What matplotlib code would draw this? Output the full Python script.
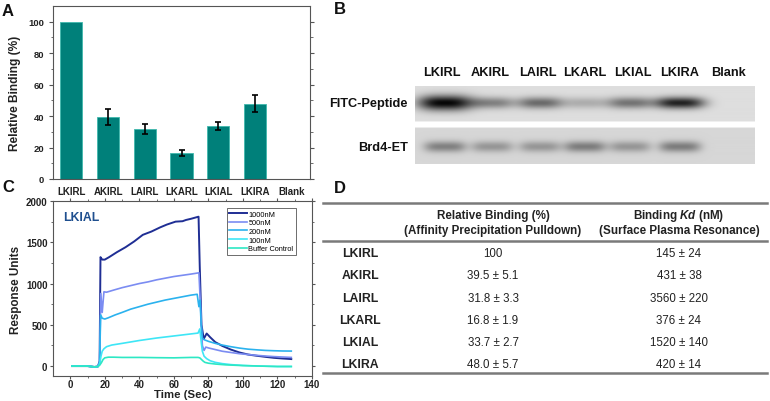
import numpy as np
import matplotlib
matplotlib.use("Agg")
import matplotlib.pyplot as plt
from matplotlib.lines import Line2D

plt.rcParams['font.family'] = ['Liberation Sans', 'DejaVu Sans']
plt.rcParams['mathtext.fontset'] = 'custom'
plt.rcParams['mathtext.it'] = 'Liberation Sans:italic:bold'
plt.rcParams['mathtext.rm'] = 'Liberation Sans:bold'

# ---------------- data ----------------
peptides = ["LKIRL", "AKIRL", "LAIRL", "LKARL", "LKIAL", "LKIRA", "Blank"]
rel_binding = [100, 39.5, 31.8, 16.8, 33.7, 48.0, 0]
rel_err = [0, 5.1, 3.3, 1.9, 2.7, 5.7, 0]

# blot band darkness (0 = none, 1 = black)
fitc_band = [0.97, 0.42, 0.52, 0.22, 0.48, 0.85, 0.0]
brd4_band = [0.40, 0.30, 0.30, 0.42, 0.30, 0.42, 0.0]

# SPR sensorgrams (LKIAL)
t_1000 = [1, 10, 14, 16, 17, 17.5, 18.5, 20, 22.5, 27, 32, 37, 42, 47, 52, 56, 61, 65, 67, 70, 74.3, 75, 76, 77.3, 79, 81, 84, 88, 93, 98, 103, 108, 113, 118, 123, 128]
v_1000 = [0, 0, -10, -5, 60, 1320, 1290, 1290, 1320, 1380, 1440, 1510, 1590, 1630, 1680, 1715, 1750, 1755, 1770, 1785, 1810, 1200, 500, 330, 395, 350, 290, 245, 200, 165, 140, 125, 112, 100, 92, 85]
t_500 = [1, 10, 14, 16, 17, 17.7, 18.5, 19.5, 21, 25, 30, 35, 40, 45, 50, 55, 60, 65, 70, 74.5, 75.5, 76.5, 77.5, 78.5, 80, 84, 88, 93, 98, 103, 108, 113, 118, 123, 128]
v_500 = [0, 0, -10, -5, 50, 880, 650, 900, 895, 920, 950, 975, 1000, 1020, 1045, 1065, 1085, 1100, 1115, 1130, 700, 250, 190, 230, 220, 200, 180, 165, 150, 140, 130, 122, 115, 110, 105]
t_200 = [1, 10, 14, 16, 17, 17.6, 18.5, 20, 22, 26, 30, 35, 40, 45, 50, 55, 60, 65, 70, 73.5, 74.5, 75.2, 75.8, 76.5, 77.5, 80, 84, 88, 93, 98, 103, 108, 113, 118, 123, 128]
v_200 = [0, 0, -10, -5, 50, 620, 580, 570, 585, 620, 650, 690, 720, 750, 775, 800, 820, 840, 860, 870, 720, 800, 500, 340, 320, 300, 275, 255, 235, 218, 205, 197, 190, 186, 183, 182]
t_100 = [1, 10, 14, 16, 17, 17.8, 18.5, 19.5, 21, 24, 30, 40, 50, 60, 70, 74, 75, 75.8, 76.5, 77.5, 79, 81, 84, 88, 93, 100, 110, 120, 128]
v_100 = [0, 0, -10, -5, 20, 120, 180, 210, 235, 255, 275, 310, 340, 365, 390, 400, 450, 300, 180, 120, 90, 65, 45, 30, 18, 8, 0, -5, -5]
t_buf = [1, 10, 14, 16, 17, 18, 19, 20, 22, 25, 30, 40, 50, 60, 70, 74, 75, 76, 77, 78, 80, 84, 90, 100, 110, 120, 128]
v_buf = [0, 0, -10, -5, 10, 40, 80, 100, 108, 108, 105, 105, 102, 100, 105, 105, 100, 80, 60, 45, 35, 25, 15, 6, 0, -5, -5]
spr_labels = ["1000nM", "500nM", "200nM", "100nM", "Buffer Control"]
spr_colors = ["#1f2e94", "#7b8cf2", "#2bb2ee", "#3ee6f6", "#2de8c4"]

# table
table_rows = ["LKIRL", "AKIRL", "LAIRL", "LKARL", "LKIAL", "LKIRA"]
table_rel = ["100", "39.5 ± 5.1", "31.8 ± 3.3", "16.8 ± 1.9", "33.7 ± 2.7", "48.0 ± 5.7"]
table_kd = ["145 ± 24", "431 ± 38", "3560 ± 220", "376 ± 24", "1520 ± 140", "420 ± 14"]

# ---------------- figure ----------------
W, H = 770, 402
fig = plt.figure(figsize=(W / 100, H / 100), dpi=100)


def px(l, t, r, b):
    return [l / W, 1 - b / H, (r - l) / W, (b - t) / H]


spine_col = "#555555"
txt_col = "#222222"

# ---------- Panel A ----------
axA = fig.add_axes(px(53, 7, 310, 180))
x = np.arange(len(peptides))
axA.bar(x, rel_binding, width=0.6, color="#00807a", edgecolor="#3fb8ad", linewidth=0.6, zorder=2)
for xi, v, e in zip(x, rel_binding, rel_err):
    if e > 0:
        axA.errorbar(xi, v, yerr=e, fmt="none", ecolor="black", elinewidth=1.2, capsize=2.2, capthick=1.2, zorder=3)
axA.set_xlim(-0.5, 6.5)
axA.set_ylim(0, 110)
axA.set_yticks([0, 20, 40, 60, 80, 100])
axA.set_yticks(np.arange(10, 110, 20), minor=True)
axA.set_xticks(x)
axA.set_xticklabels(peptides, fontsize=7, fontweight="bold", color=txt_col)
axA.tick_params(axis="x", length=0, pad=5)
axA.tick_params(axis="y", which="major", direction="out", length=3, labelsize=6.8, right=True, color=spine_col)
axA.tick_params(axis="y", which="minor", direction="out", length=1.8, right=True, color=spine_col)
for lab in axA.get_yticklabels():
    lab.set_fontweight("bold")
    lab.set_color(txt_col)
axA.set_ylabel("Relative Binding (%)", fontsize=8.6, fontweight="bold", color=txt_col, labelpad=5)
for s in axA.spines.values():
    s.set_color(spine_col)
    s.set_linewidth(0.8)

# ---------- Panel B (blot) ----------
axB = fig.add_axes(px(415, 87, 755, 165))
x0, x1, y0, y1 = 415, 755, 87, 165
res = 2
xs = np.linspace(x0, x1, (x1 - x0) * res)
ys = np.linspace(y0, y1, (y1 - y0) * res)
XX, YY = np.meshgrid(xs, ys)
lane_x = [445, 492, 540, 585, 630, 680, 728]
top_w = [27, 22, 23, 22, 23, 25, 20]
img = np.ones_like(XX)
top_mask = (YY >= 87) & (YY <= 123)
bot_mask = (YY >= 129) & (YY <= 165)
img[top_mask] = 0.87
img[bot_mask] = 0.84
dark_top = np.zeros_like(XX)
dark_bot = np.zeros_like(XX)
for c, w, dt, db in zip(lane_x, top_w, fitc_band, brd4_band):
    hx = np.exp(-np.abs((XX - c) / w) ** 3)
    hh = 7.5 if dt > 0.9 else 5.8
    dark_top += dt * hx * np.exp(-((YY - 104.5) / hh) ** 2)
    hx2 = np.exp(-np.abs((XX - c) / 21) ** 4)
    dark_bot += db * hx2 * np.exp(-((YY - 148) / 5.5) ** 2)
img = np.where(top_mask, img * (1 - np.clip(dark_top, 0, 1)), img)
img = np.where(bot_mask, img * (1 - np.clip(dark_bot, 0, 1)), img)
axB.imshow(img, cmap="gray", vmin=0, vmax=1, extent=(x0, x1, y1, y0), aspect="auto", interpolation="bilinear")
axB.set_xlim(x0, x1)
axB.set_ylim(y1, y0)
axB.axis("off")

# ---------- Panel C ----------
axC = fig.add_axes(px(53, 202, 312, 377))
series = [(t_1000, v_1000), (t_500, v_500), (t_200, v_200), (t_100, v_100), (t_buf, v_buf)]
lws = [1.4, 1.2, 1.2, 1.2, 1.2]
for (tt, vv), lab, col, lw in zip(series, spr_labels, spr_colors, lws):
    axC.plot(tt, vv, color=col, lw=lw, label=lab)
axC.set_xlim(-10, 140)
axC.set_ylim(-120, 2000)
axC.set_xticks(np.arange(0, 141, 20))
axC.set_xticks(np.arange(10, 140, 20), minor=True)
axC.set_yticks([0, 500, 1000, 1500, 2000])
axC.set_yticks([250, 750, 1250, 1750], minor=True)
axC.tick_params(which="major", direction="out", length=2.5, labelsize=7, top=True, right=True, color=spine_col, pad=1.5)
axC.tick_params(which="minor", direction="out", length=1.5, top=True, right=True, color=spine_col)
axC.tick_params(axis="x", which="major", length=2, pad=0.5)
for lab in axC.get_xticklabels() + axC.get_yticklabels():
    lab.set_fontweight("bold")
    lab.set_color(txt_col)
axC.set_xlabel("Time (Sec)", fontsize=8.2, fontweight="bold", color=txt_col, labelpad=0)
axC.set_ylabel("Response Units", fontsize=8.4, fontweight="bold", color=txt_col, labelpad=3)
for s in axC.spines.values():
    s.set_color(spine_col)
    s.set_linewidth(0.8)
leg = axC.legend(loc="upper right", bbox_to_anchor=(296 / W, 1 - 209 / H), bbox_transform=fig.transFigure,
                 fontsize=5.3, frameon=True, fancybox=False, edgecolor="#555555", framealpha=1,
                 borderpad=0.35, labelspacing=0.2, handlelength=2.4, handletextpad=0.2, borderaxespad=0)
leg.get_frame().set_linewidth(0.6)

# ---------- overlay (labels, table) ----------
ov = fig.add_axes([0, 0, 1, 1], zorder=10)
ov.set_xlim(0, W)
ov.set_ylim(H, 0)
ov.axis("off")
ov.patch.set_alpha(0)

ov.text(63, 218, "LKIAL", fontsize=8.8, fontweight="bold", color="#1f4f8f", va="center", ha="left")

for letter, (lx, ly) in zip("ABCD", [(8, 12), (340, 9), (8, 188), (340, 189)]):
    ov.text(lx, ly, letter, fontsize=12, fontweight="bold", ha="center", va="center", color="#111111")

# blot labels
lane_lbl_x = [442, 490, 538, 585, 633, 680, 728]
for lx, lab in zip(lane_lbl_x, peptides):
    ov.text(lx, 73, lab, fontsize=9.2, fontweight="bold", ha="center", va="center", color="#111111")
ov.text(408, 104, "FITC-Peptide", fontsize=9.2, fontweight="bold", ha="right", va="center", color="#111111")
ov.text(408, 148, "Brd4-ET", fontsize=9.2, fontweight="bold", ha="right", va="center", color="#111111")

# table
line_col = "#7a7a7a"
for yy, lw in [(203.5, 1.8), (242, 1.8), (374, 1.8)]:
    ov.add_line(Line2D([323, 767], [yy, yy], color=line_col, lw=lw))
hdr_fs = 8.4
ov.text(493, 216, "Relative Binding (%)", fontsize=hdr_fs, fontweight="bold", ha="center", va="center", color=txt_col)
ov.text(493, 231, "(Affinity Precipitation Pulldown)", fontsize=hdr_fs, fontweight="bold", ha="center", va="center", color=txt_col)
ov.text(679, 216, r"Binding $\mathit{Kd}$ (nM)", fontsize=hdr_fs, fontweight="bold", ha="center", va="center", color=txt_col)
ov.text(679, 231, "(Surface Plasma Resonance)", fontsize=hdr_fs, fontweight="bold", ha="center", va="center", color=txt_col)
row_y = [254, 276, 299, 321, 343, 365]
for ry, rl, r1, r2 in zip(row_y, table_rows, table_rel, table_kd):
    ov.text(360, ry, rl, fontsize=8.8, fontweight="bold", ha="center", va="center", color=txt_col)
    ov.text(493, ry, r1, fontsize=8.3, ha="center", va="center", color=txt_col)
    ov.text(679, ry, r2, fontsize=8.3, ha="center", va="center", color=txt_col)

fig.savefig("out.png", dpi=100)
